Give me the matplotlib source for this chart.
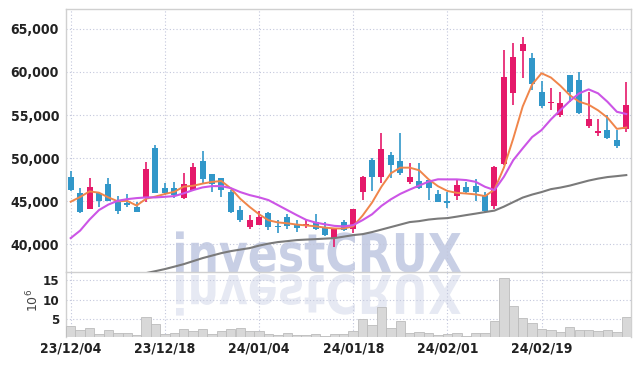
import matplotlib
matplotlib.use("Agg")
import matplotlib.pyplot as plt
from matplotlib.textpath import TextPath
from matplotlib.patches import PathPatch
from matplotlib.font_manager import FontProperties
from matplotlib.transforms import Affine2D
from matplotlib.ticker import FuncFormatter, FixedLocator

# ---------------- data ----------------
dates = ["23/12/04", "23/12/05", "23/12/06", "23/12/07", "23/12/08", "23/12/11", "23/12/12", "23/12/13",
         "23/12/14", "23/12/15", "23/12/18", "23/12/19", "23/12/20", "23/12/21", "23/12/22", "23/12/26",
         "23/12/27", "23/12/28", "24/01/02", "24/01/03", "24/01/04", "24/01/05", "24/01/08", "24/01/09",
         "24/01/10", "24/01/11", "24/01/12", "24/01/15", "24/01/16", "24/01/17", "24/01/18", "24/01/19",
         "24/01/22", "24/01/23", "24/01/24", "24/01/25", "24/01/26", "24/01/29", "24/01/30", "24/01/31",
         "24/02/01", "24/02/02", "24/02/05", "24/02/06", "24/02/07", "24/02/08", "24/02/13", "24/02/14",
         "24/02/15", "24/02/16", "24/02/19", "24/02/20", "24/02/21", "24/02/22", "24/02/23", "24/02/26",
         "24/02/27", "24/02/28", "24/02/29", "24/03/04"]

opens = [47850, 46000, 44150, 46000, 47000, 45050, 44800, 44350, 45350, 51200,
         46500, 46500, 45350, 46300, 49650, 48150, 47650, 46050, 44000, 42050,
         42250, 43700, 42100, 43200, 42350, 42100, 42600, 41950, 40800, 42600,
         41750, 46050, 49800, 47850, 50350, 49650, 47250, 47350, 47450, 45850,
         45000, 45650, 46700, 46800, 45700, 44500, 49300, 57600, 62450, 61650,
         57650, 56350, 55000, 59650, 59050, 53750, 52950, 53250, 52100, 53350]
highs = [48500, 46500, 47650, 46100, 47750, 45600, 45800, 44950, 49500, 51500,
         47100, 47200, 48250, 49400, 50800, 48200, 47700, 46300, 44450, 43450,
         43850, 43750, 42800, 43500, 42800, 43000, 43500, 42600, 41800, 42800,
         44150, 47900, 50000, 52950, 50750, 52900, 49450, 49400, 47500, 46300,
         46100, 47450, 47250, 47550, 46050, 49050, 62550, 63300, 64000, 62200,
         59000, 58100, 57650, 59700, 60000, 57700, 54600, 55000, 53250, 58800]
lows = [46200, 43650, 44100, 44350, 45000, 43500, 44300, 43750, 44950, 45950,
        45700, 45350, 45300, 46250, 47100, 46100, 45450, 43700, 42550, 41800,
        42200, 41650, 41350, 41750, 41450, 41950, 41700, 40950, 39650, 41550,
        41300, 45200, 46200, 47100, 47650, 48050, 47000, 46450, 45200, 44900,
        44200, 45200, 45850, 45050, 43800, 44100, 49250, 56150, 59250, 57900,
        55800, 55600, 54750, 56550, 55100, 53550, 52600, 52250, 51150, 53050]
closes = [46300, 43800, 46650, 45050, 45050, 43900, 44550, 43800, 48750, 46000,
          46000, 45700, 47000, 48950, 47550, 46950, 46300, 43800, 42800, 42800,
          43150, 42050, 42050, 42150, 41850, 42350, 41750, 41100, 41750, 41650,
          44100, 47850, 47850, 51050, 49200, 48300, 47850, 46500, 46550, 44950,
          44800, 46900, 46100, 46050, 43900, 49000, 59450, 61750, 63250, 58550,
          56100, 56550, 56450, 57700, 55250, 54550, 53200, 52350, 51450, 56150]

ma_short = [44950, 45500, 46150, 46000, 45450, 45000, 45050, 44500, 45300, 45550,
            45850, 46100, 46700, 46800, 47050, 47250, 47350, 46500, 45300, 44350,
            43500, 42800, 42550, 42450, 42300, 42200, 42100, 41950, 41850, 41850,
            42100, 43350, 44850, 46700, 48250, 48900, 48900, 48600, 47550, 46750,
            46200, 45980, 45900, 45800, 45600, 46350, 48900, 52300, 56000, 58550,
            59850, 59350, 58400, 57300, 56550, 56200, 55550, 54700, 53400, 53550]
ma_mid = [40730, 41600, 42880, 43980, 44620, 45060, 45250, 45370, 45450, 45450,
          45520, 45600, 45920, 46300, 46610, 46760, 46760, 46530, 46070, 45720,
          45460, 45140, 44560, 43980, 43400, 42850, 42530, 42330, 42150, 42090,
          42240, 42820, 43490, 44470, 45230, 45860, 46360, 46820, 47280, 47550,
          47540, 47540, 47460, 47260, 46680, 46300, 47840, 49780, 51140, 52450,
          53260, 54500, 55580, 56620, 57520, 57980, 57520, 56540, 55380, 55120]
ma_long_start = 8
ma_long = [36670, 36900, 37140, 37420, 37710, 38060, 38410, 38700, 38990, 39220,
           39400, 39570, 39860, 40090, 40270, 40380, 40500, 40560, 40610, 40670,
           40730, 40900, 41080, 41190, 41430, 41720, 42010, 42300, 42590, 42700,
           42880, 42990, 43050, 43220, 43400, 43570, 43750, 43920, 44380, 44910,
           45430, 45780, 46070, 46410, 46590, 46820, 47110, 47400, 47630, 47810,
           47920, 48040]

volumes = [3.3, 2.3, 2.7, 1.3, 2.3, 1.6, 1.6, 0.9, 5.7, 3.8,
           1.3, 1.6, 2.5, 2.0, 2.5, 1.3, 2.0, 2.5, 2.7, 1.9,
           1.9, 1.3, 1.0, 1.4, 0.9, 0.9, 1.3, 0.75, 1.3, 1.3,
           1.9, 5.0, 3.6, 8.0, 2.7, 4.6, 1.6, 1.8, 1.4, 0.9,
           1.3, 1.4, 0.75, 1.4, 1.4, 4.6, 15.4, 8.4, 5.3, 4.0,
           2.5, 2.3, 1.8, 3.0, 2.3, 2.3, 2.0, 2.3, 1.8, 5.5]

price_ticks = [40000, 45000, 50000, 55000, 60000, 65000]
volume_ticks = [5, 10, 15]
label_every = 10

# ---------------- styling ----------------
W, H = 639, 366
UP = "#e5196a"
DOWN = "#3197c9"
C_SHORT = "#f0854a"
C_MID = "#cc55e6"
C_LONG = "#7a7a7a"
GRID = "#c3c7dc"
SPINE = "#d0d0d0"
TXT = "#222222"
tick_fp = FontProperties(family="DejaVu Sans", stretch="condensed", weight="bold", size=10)
vol_fp = FontProperties(family="DejaVu Sans", stretch="condensed", weight="bold", size=9.5)

fig = plt.figure(figsize=(W / 100, H / 100), dpi=100)
fig.patch.set_facecolor("white")

left, right = 66 / W, 631 / W
top_main, bot_main, bot_vol = 1 - 9 / H, 1 - 272 / H, 1 - 337.3 / H
ax = fig.add_axes([left, bot_main, right - left, top_main - bot_main])
axv = fig.add_axes([left, bot_vol, right - left, bot_main - bot_vol], sharex=ax)
for a in (ax, axv):
    a.set_facecolor("none")

# watermark with reflection (behind axes)
fp = FontProperties(family="DejaVu Sans", weight="bold")
tp = TextPath((0, 0), "investCRUX", size=1, prop=fp)
ext = tp.get_extents()
sx = 285 / ext.width
sy = 39 / 0.73
x0 = 176 - ext.x0 * sx
base = H - 272
wm = PathPatch(tp, transform=Affine2D().scale(sx, sy).translate(x0, base),
               facecolor="#c8cfe5", edgecolor="none", zorder=-5)
wm_r = PathPatch(tp, transform=Affine2D().scale(sx, -sy).translate(x0, base - 3),
                 facecolor="#e6e9f3", edgecolor="none", zorder=-5)
fig.add_artist(wm)
fig.add_artist(wm_r)

n = len(closes)
xs = list(range(n))

# candles
min_body = 90
for i in xs:
    o, h, l, c = opens[i], highs[i], lows[i], closes[i]
    col = UP if c >= o else DOWN
    ax.vlines(i, l, h, color=col, linewidth=1.2, zorder=3)
    lo = min(o, c)
    hgt = max(abs(c - o), min_body)
    ax.bar(i, hgt, bottom=lo - (hgt - abs(c - o)) / 2, width=0.64, color=col,
           edgecolor="none", zorder=4)

# moving averages
ax.plot(xs, ma_short, color=C_SHORT, linewidth=1.4, zorder=5)
ax.plot(xs, ma_mid, color=C_MID, linewidth=1.5, zorder=5)
ax.plot(list(range(ma_long_start, n)), ma_long, color=C_LONG, linewidth=1.5, zorder=5)

ax.set_xlim(-0.5, n - 0.5)
ax.set_ylim(36800, 67300)
ax.yaxis.set_major_locator(FixedLocator(price_ticks))
ax.yaxis.set_major_formatter(FuncFormatter(lambda v, p: f"{int(v):,}"))

# volume
axv.bar(xs, volumes, width=1.0, color="#d8d8d8", edgecolor="#bcbcbc",
        linewidth=0.6, zorder=3)
axv.set_ylim(0.42, 17.0)
axv.yaxis.set_major_locator(FixedLocator(volume_ticks))

tick_idx = list(range(0, n, label_every))
axv.xaxis.set_major_locator(FixedLocator(tick_idx))
axv.set_xticklabels([dates[i] for i in tick_idx])
plt.setp(ax.get_xticklabels(), visible=False)

for a in (ax, axv):
    a.grid(True, color=GRID, linestyle=(0, (1, 2)), linewidth=0.8, zorder=0)
    a.set_axisbelow(True)
    a.tick_params(length=0, colors=TXT)
    for s in a.spines.values():
        s.set_color(SPINE)
        s.set_linewidth(1.0)
axv.spines["bottom"].set_visible(False)
axv.spines["top"].set_visible(False)

for lab in ax.get_yticklabels():
    lab.set_fontproperties(tick_fp)
for lab in axv.get_yticklabels():
    lab.set_fontproperties(vol_fp)
for lab in axv.get_xticklabels():
    lab.set_fontproperties(tick_fp)
ax.tick_params(axis="y", pad=5)
axv.tick_params(axis="y", pad=5)
axv.tick_params(axis="x", pad=3)

fig.text(33 / W, 1 - 300 / H, r"$10^6$", rotation=90, ha="center", va="center",
         fontsize=9, color="#444444")

fig.savefig("out.png", dpi=100)
